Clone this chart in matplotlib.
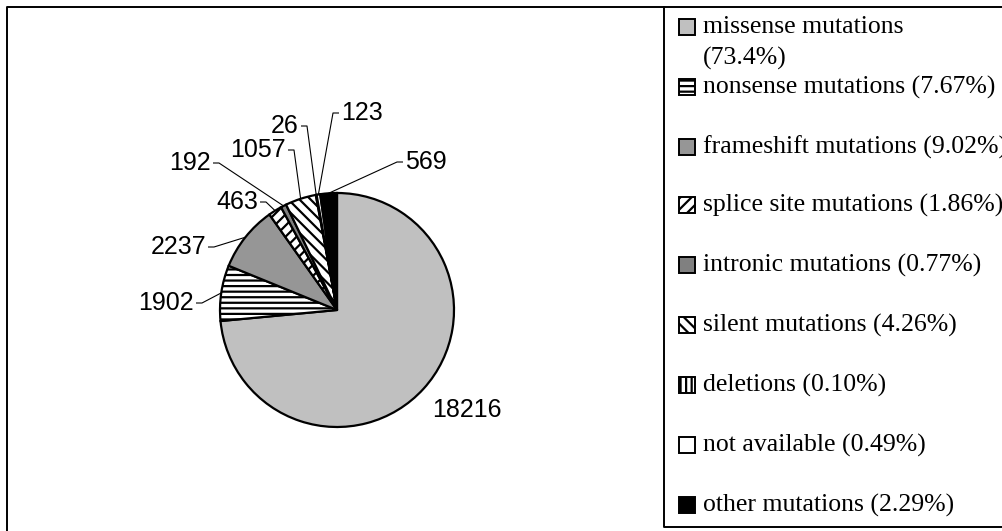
import matplotlib
matplotlib.use("Agg")
import matplotlib.pyplot as plt
from matplotlib.patches import Rectangle
import numpy as np

# Mutation classes and their counts
categories = ["missense mutations", "nonsense mutations", "frameshift mutations",
              "splice site mutations", "intronic mutations", "silent mutations",
              "deletions", "not available", "other mutations"]
counts = [18216, 1902, 2237, 463, 192, 1057, 26, 123, 569]
shares = ["73.4%", "7.67%", "9.02%", "1.86%", "0.77%", "4.26%", "0.10%", "0.49%", "2.29%"]

# Styling for each class
fills = ["#c0c0c0", "white", "#969696", "white", "#808080", "white", "white", "white", "black"]
hatches = [None, "---", None, "///", None, "\\\\\\", "|||", None, None]

# Label anchor points (pixels from top-left) and text alignment
label_pos = [(432, 410, "left"), (194, 303, "right"), (206, 247, "right"),
             (258, 202, "right"), (211, 163, "right"), (286, 150, "right"),
             (299, 126, "right"), (341, 113, "left"), (405, 162, "left")]

W, H = 1002, 531
plt.rcParams["hatch.linewidth"] = 1.6

fig = plt.figure(figsize=(W / 100, H / 100), dpi=100)
ax = fig.add_axes([0, 0, 1, 1])


def Y(y):
    return H - y


cx, cy, r = 337, Y(310), 117
wedges, _ = ax.pie(counts, colors=fills, startangle=90, counterclock=False,
                   center=(cx, cy), radius=r,
                   wedgeprops=dict(edgecolor="black", linewidth=1.6))
for w, h in zip(wedges, hatches):
    if h:
        w.set_hatch(h)

ax.set_xlim(0, W)
ax.set_ylim(0, H)
ax.set_aspect("equal")
ax.set_axis_off()

label_font = dict(family="Liberation Sans", size=18, color="black")
for i, (w, (lx, ly, ha)) in enumerate(zip(wedges, label_pos)):
    ax.text(lx, Y(ly), f"{counts[i]}", ha=ha, va="center", **label_font)
    if i == 0:
        continue
    mid = np.deg2rad((w.theta1 + w.theta2) / 2)
    ex, ey = cx + r * np.cos(mid), cy + r * np.sin(mid)
    sgn = 1 if ha == "right" else -1
    sx = lx + sgn * 2
    kx = sx + sgn * 6
    ax.plot([sx, kx, ex], [Y(ly), Y(ly), ey], color="black", lw=0.8,
            solid_capstyle="butt")

# Outer chart frame
ax.plot([7, 7, W + 5], [-5, Y(7), Y(7)], color="black", lw=1.4)

# Legend box
lx0 = 664
ax.plot([lx0, lx0, W + 5], [Y(7), Y(527), Y(527)], color="black", lw=1.4)

legend_font = dict(family="Liberation Serif", size=18.5, color="black")
entry_y = [27, 87, 147, 205, 265, 325, 385, 445, 505]
for i, yy in enumerate(entry_y):
    rect = Rectangle((679, Y(yy) - 8), 16, 16, facecolor=fills[i],
                     edgecolor="black", linewidth=1.4, hatch=hatches[i])
    ax.add_patch(rect)
    if i == 0:
        ax.text(703, Y(yy), categories[i], ha="left", va="center", **legend_font)
        ax.text(703, Y(yy + 31), f"({shares[i]})", ha="left", va="center",
                **legend_font)
    else:
        ax.text(703, Y(yy), f"{categories[i]} ({shares[i]})", ha="left",
                va="center", **legend_font)

fig.savefig("out.png", dpi=100)
